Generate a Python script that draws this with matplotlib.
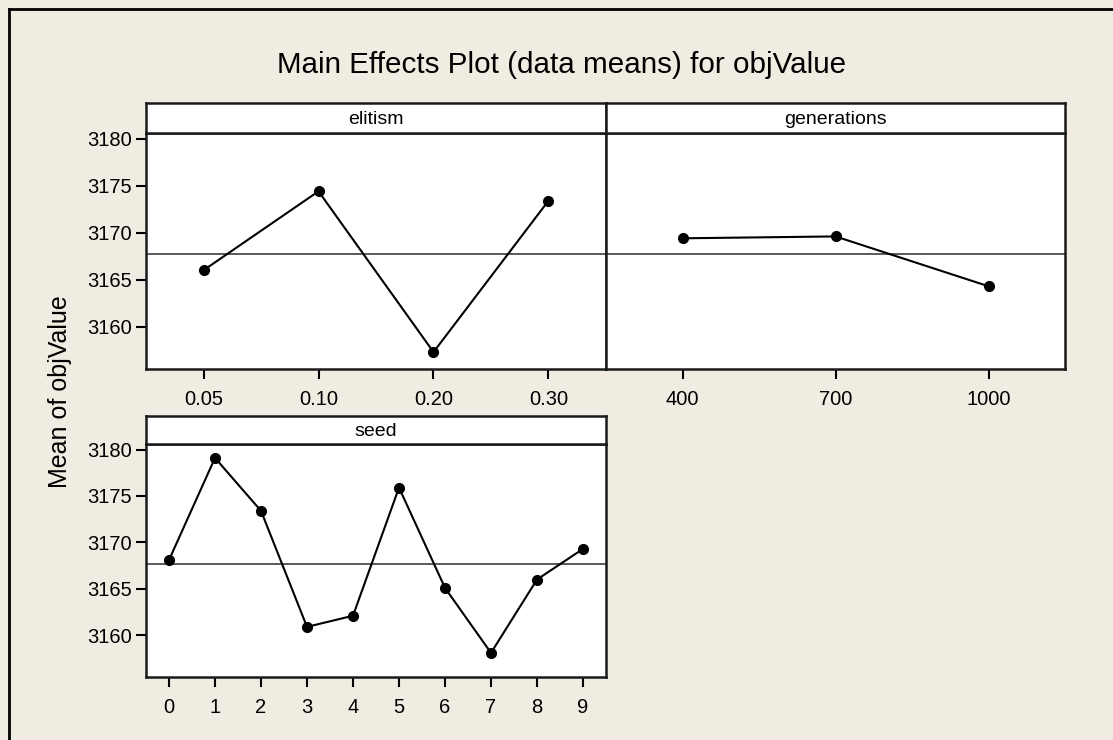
import matplotlib
matplotlib.use("Agg")
import matplotlib.pyplot as plt
from matplotlib.lines import Line2D

# ---- data ----
elitism_levels = ["0.05", "0.10", "0.20", "0.30"]
elitism_means = [3166.0, 3174.4, 3157.3, 3173.4]

generations_levels = ["400", "700", "1000"]
generations_means = [3169.4, 3169.6, 3164.3]

seed_levels = ["0", "1", "2", "3", "4", "5", "6", "7", "8", "9"]
seed_means = [3168.1, 3179.1, 3173.4, 3160.9, 3162.1, 3175.9, 3165.1, 3158.1, 3166.0, 3169.3]

grand_mean = 3167.7
y_ticks = [3160, 3165, 3170, 3175, 3180]

TITLE = "Main Effects Plot (data means) for objValue"
YLABEL = "Mean of objValue"

# ---- style ----
BG = "#F0ECE2"
FONT = ["Liberation Sans", "Arial", "DejaVu Sans"]
plt.rcParams["font.family"] = FONT

W, H = 1113, 740
fig = plt.figure(figsize=(W / 100, H / 100), dpi=100, facecolor=BG)

YLIM = (3155.5, 3180.6)


def px_rect(x0, y0, x1, y1):
    return [x0 / W, 1 - y1 / H, (x1 - x0) / W, (y1 - y0) / H]


def panel(x0, x1, strip_top, data_top, data_bot, name, levels, means, show_y):
    ax = fig.add_axes(px_rect(x0, data_top, x1, data_bot))
    ax.set_facecolor("white")
    pos = list(range(len(levels)))
    ax.axhline(grand_mean, color="#5a5a5a", lw=1.4, zorder=1)
    ax.plot(pos, means, color="black", lw=1.5, marker="o", ms=7, zorder=3)
    ax.set_xlim(-0.5, len(levels) - 0.5)
    ax.set_ylim(*YLIM)
    ax.set_xticks(pos)
    ax.set_xticklabels(levels)
    ax.tick_params(axis="x", length=7.5, width=1.5, pad=7.5, labelsize=14.5, colors="black")
    if show_y:
        ax.set_yticks(y_ticks)
        ax.set_yticklabels([str(t) for t in y_ticks])
        ax.tick_params(axis="y", length=7, width=1.5, pad=3, labelsize=14.5)
    else:
        ax.set_yticks([])
    for s in ax.spines.values():
        s.set_linewidth(1.8)
        s.set_color("#1a1a1a")
    # strip
    sx = fig.add_axes(px_rect(x0, strip_top, x1, data_top))
    sx.set_facecolor("white")
    sx.set_xticks([])
    sx.set_yticks([])
    for s in sx.spines.values():
        s.set_linewidth(1.8)
        s.set_color("#1a1a1a")
    sx.text(0.5, 0.45, name, ha="center", va="center", fontsize=14, transform=sx.transAxes)
    return ax


panel(146, 606, 103, 133, 369, "elitism", elitism_levels, elitism_means, True)
panel(606, 1065, 103, 133, 369, "generations", generations_levels, generations_means, False)
panel(146, 606, 416, 444, 677, "seed", seed_levels, seed_means, True)

fig.text(562 / W, 1 - 73.3 / H, TITLE, ha="center", va="baseline", fontsize=21.3)
fig.text(60 / W, 1 - 392 / H, YLABEL, ha="center", va="center", rotation=90, fontsize=18)

# outer border (left and top edges visible)
fig.add_artist(Line2D([9 / W, 9 / W], [0, 1 - 9 / H], transform=fig.transFigure, color="black", lw=2))
fig.add_artist(Line2D([9 / W, 1], [1 - 9 / H, 1 - 9 / H], transform=fig.transFigure, color="black", lw=2))

fig.savefig("out.png", dpi=100, facecolor=BG)
